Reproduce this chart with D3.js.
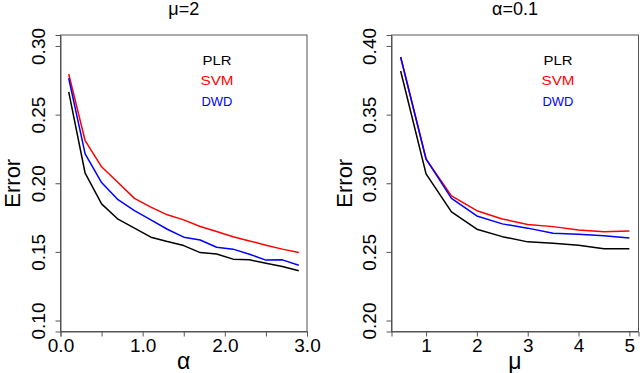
<!DOCTYPE html>
<html>
<head>
<meta charset="utf-8">
<script src="https://cdn.jsdelivr.net/npm/d3@7"></script>
<style>
  html, body { margin: 0; padding: 0; background: #fff; }
  svg { display: block; font-family: "Liberation Sans", Arial, sans-serif; }
</style>
</head>
<body>
<div id="chart"></div>
<script>
// values
const alphaVals = [0.1, 0.3, 0.5, 0.7, 0.9, 1.1, 1.3, 1.5, 1.7, 1.9, 2.1, 2.3, 2.5, 2.7, 2.9];
const plrAlpha = [0.2665, 0.2073, 0.185, 0.1738, 0.1673, 0.1607, 0.1575, 0.1546, 0.1495, 0.1485, 0.1447, 0.1442, 0.1418, 0.1393, 0.1362];
const svmAlpha = [0.2796, 0.231, 0.212, 0.2005, 0.189, 0.1826, 0.177, 0.1733, 0.1685, 0.1648, 0.161, 0.158, 0.1549, 0.152, 0.1495];
const dwdAlpha = [0.2765, 0.2214, 0.2005, 0.188, 0.180, 0.1733, 0.1665, 0.1607, 0.1587, 0.1534, 0.152, 0.1483, 0.144, 0.1442, 0.1403];

const muVals = [0.5, 1, 1.5, 2, 2.5, 3, 3.5, 4, 4.5, 5];
const plrMu = [0.3818, 0.3068, 0.2791, 0.2665, 0.2611, 0.2573, 0.2563, 0.2549, 0.2522, 0.2522];
const svmMu = [0.3918, 0.3175, 0.2908, 0.280, 0.274, 0.270, 0.2684, 0.266, 0.2646, 0.2653];
const dwdMu = [0.392, 0.3177, 0.289, 0.2762, 0.2704, 0.2673, 0.2636, 0.2629, 0.2617, 0.2602];

const methods = ["PLR", "SVM", "DWD"];
const methodColors = ["#000000", "#ff0000", "#0000ff"];

const alphaTicks = [0, 0.5, 1, 1.5, 2, 2.5, 3];
const alphaTickLabels = ["0.0", "", "1.0", "", "2.0", "", "3.0"];
const muTicks = [1, 2, 3, 4, 5];
const muTickLabels = ["1", "2", "3", "4", "5"];
const errTicksA = [0.10, 0.15, 0.20, 0.25, 0.30];
const errTicksB = [0.20, 0.25, 0.30, 0.35, 0.40];

const width = 640, height = 373;

const svg = d3.select("#chart").append("svg")
  .attr("width", width)
  .attr("height", height)
  .attr("viewBox", [0, 0, width, height]);

function drawPanel(p) {
  const x = d3.scaleLinear().domain(p.xDomain).range([p.left, p.right]);
  const y = d3.scaleLinear().domain(p.yDomain).range([p.bottom, p.top]);
  const g = svg.append("g");

  // data lines
  const line = d3.line().x((d, i) => x(p.xs[i])).y(d => y(d));
  p.series.forEach((s, k) => {
    g.append("path")
      .datum(s)
      .attr("fill", "none")
      .attr("stroke", methodColors[k])
      .attr("stroke-width", 1.5)
      .attr("stroke-linejoin", "round")
      .attr("d", line);
  });

  // box
  g.append("rect")
    .attr("x", p.left).attr("y", p.top)
    .attr("width", p.right - p.left).attr("height", p.bottom - p.top)
    .attr("fill", "none").attr("stroke", "#555").attr("stroke-width", 1);

  // x axis
  const xa = g.append("g").attr("transform", `translate(0,${p.bottom})`)
    .call(d3.axisBottom(x).tickValues(p.xTicks).tickSize(5).tickPadding(2)
      .tickFormat((d, i) => p.xTickLabels[i]));
  // y axis
  const ya = g.append("g").attr("transform", `translate(${p.left},0)`)
    .call(d3.axisLeft(y).tickValues(p.yTicks).tickSize(5).tickFormat(d3.format(".2f")));

  [xa, ya].forEach(a => {
    a.select(".domain").attr("stroke", "#555");
    a.selectAll(".tick line").attr("stroke", "#555");
    a.selectAll("text").attr("fill", "#000").attr("font-size", 19)
      .attr("font-family", "Liberation Sans, Arial, sans-serif");
  });
  xa.selectAll(".tick text").attr("dy", null).attr("y", 20);
  ya.selectAll(".tick text")
    .attr("x", null).attr("dy", null)
    .attr("text-anchor", "middle")
    .attr("transform", "translate(-16,0) rotate(-90)");

  // title
  g.append("text")
    .attr("x", (p.left + p.right) / 2).attr("y", 15)
    .attr("text-anchor", "middle").attr("font-size", 18)
    .text(p.title);

  // x label
  g.append("text")
    .attr("x", (p.left + p.right) / 2).attr("y", 369)
    .attr("text-anchor", "middle").attr("font-size", 23)
    .text(p.xLabel);

  // y label
  g.append("text")
    .attr("transform", `translate(${p.yLabelX},${(p.top + p.bottom) / 2}) rotate(-90)`)
    .attr("text-anchor", "middle").attr("font-size", 22)
    .text("Error");

  // legend (no box)
  methods.forEach((m, k) => {
    g.append("text")
      .attr("x", p.legendX).attr("y", 64.5 + k * 20.8)
      .attr("text-anchor", "middle").attr("font-size", 12)
      .attr("fill", methodColors[k])
      .attr("textLength", [29, 33, 31][k]).attr("lengthAdjust", "spacingAndGlyphs")
      .text(m);
  });
}

drawPanel({
  xs: alphaVals, series: [plrAlpha, svmAlpha, dwdAlpha],
  xDomain: [0, 3], yDomain: [0.092, 0.308],
  left: 60.5, right: 307, top: 35, bottom: 331.5,
  xTicks: alphaTicks, xTickLabels: alphaTickLabels, yTicks: errTicksA,
  title: "\u03bc=2", xLabel: "\u03b1", yLabelX: 20, legendX: 217
});

drawPanel({
  xs: muVals, series: [plrMu, svmMu, dwdMu],
  xDomain: [0.32, 5.18], yDomain: [0.192, 0.408],
  left: 391.5, right: 638.5, top: 35, bottom: 331.5,
  xTicks: muTicks, xTickLabels: muTickLabels, yTicks: errTicksB,
  title: "\u03b1=0.1", xLabel: "\u03bc", yLabelX: 352, legendX: 558
});
</script>
</body>
</html>
